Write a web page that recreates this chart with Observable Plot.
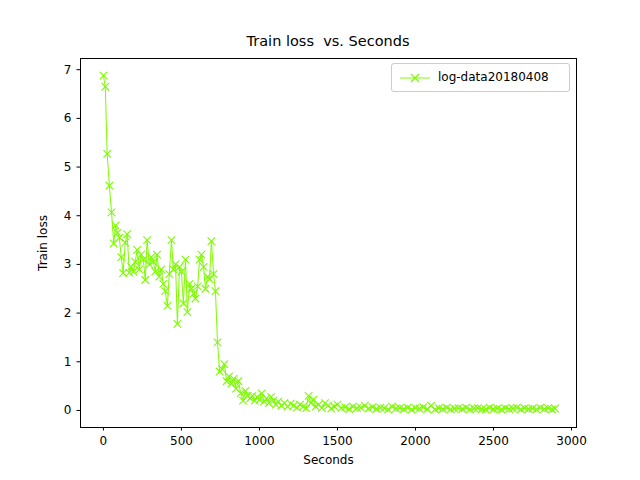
<!DOCTYPE html>
<html>
<head>
<meta charset="utf-8">
<script src="https://cdn.jsdelivr.net/npm/d3@7"></script>
<script src="https://cdn.jsdelivr.net/npm/@observablehq/plot@0.6"></script>
<style>
  body { margin: 0; font-family: "DejaVu Sans", sans-serif; background: #fff; }
  #wrap { position: relative; width: 640px; height: 480px; }
  #title { position: absolute; top: 33px; left: 80px; width: 496px; text-align: center; font-size: 14.5px; white-space: pre; }
  #legend { position: absolute; left: 391px; top: 63px; width: 177px; height: 27px; border: 1px solid #ccc; border-radius: 3px; background: #fff; font-size: 12px; }
  #legend svg { position: absolute; left: 6px; top: 6px; }
  #legend span { position: absolute; left: 46px; top: 6px; }
</style>
</head>
<body>
<div id="wrap">
  <div id="chart"></div>
  <div id="title">Train loss  vs. Seconds</div>
  <div id="legend">
    <svg width="34" height="16"><line x1="2" y1="8" x2="32" y2="8" stroke="#7CFC00"/><path d="M13,4L21,12M21,4L13,12" stroke="#7CFC00" stroke-width="1.2"/></svg>
    <span>log-data20180408</span>
  </div>
</div>
<script>
// early phase (0-760 s)
const secsA = [0, 12, 24, 38, 52, 66, 78, 90, 102, 114, 126, 140, 152, 166, 178, 192, 204, 216, 230, 242, 256, 268, 280, 294, 306, 320, 332, 344, 358, 370, 384, 396, 410, 422, 436, 448, 462, 474, 488, 500, 512, 526, 538, 552, 564, 578, 590, 604, 616, 628, 642, 654, 668, 680, 692, 706, 718, 731, 745, 760];
const lossA = [6.88, 6.65, 5.27, 4.62, 4.07, 3.43, 3.8, 3.65, 3.55, 3.15, 2.82, 3.45, 3.62, 2.83, 2.95, 2.85, 3.05, 3.3, 2.9, 3.2, 3.1, 2.68, 3.5, 3.0, 3.15, 3.05, 2.85, 3.2, 2.75, 2.9, 2.6, 2.45, 2.15, 2.8, 3.5, 2.9, 3.0, 1.78, 2.95, 2.85, 2.2, 3.1, 2.02, 2.6, 2.5, 2.4, 2.3, 2.55, 3.1, 3.2, 2.95, 2.5, 2.75, 2.7, 3.48, 2.8, 2.45, 1.4, 0.8, 0.85];
// decay and plateau (775-2900 s)
const secsB = [775, 790, 805, 820, 835, 850, 865, 880, 895, 910, 925, 940, 955, 970, 985, 1000, 1015, 1030, 1045, 1060, 1075, 1090, 1105, 1120, 1140, 1160, 1180, 1200, 1220, 1240, 1260, 1280, 1300, 1315, 1330, 1345, 1360, 1380, 1400, 1420, 1440, 1460, 1480, 1500, 1525, 1550, 1575, 1600, 1625, 1650, 1675, 1700, 1725, 1750, 1775, 1800, 1825, 1850, 1875, 1900, 1925, 1950, 1975, 2000, 2025, 2050, 2075, 2100, 2125, 2150, 2175, 2200, 2225, 2250, 2275, 2300, 2325, 2350, 2375, 2400, 2425, 2450, 2475, 2500, 2525, 2550, 2575, 2600, 2625, 2650, 2675, 2700, 2725, 2750, 2775, 2800, 2825, 2850, 2875, 2895];
const lossB = [0.95, 0.6, 0.7, 0.55, 0.65, 0.45, 0.6, 0.35, 0.2, 0.4, 0.3, 0.25, 0.3, 0.2, 0.28, 0.22, 0.35, 0.18, 0.25, 0.15, 0.28, 0.2, 0.12, 0.18, 0.1, 0.15, 0.08, 0.14, 0.1, 0.06, 0.12, 0.08, 0.05, 0.3, 0.15, 0.22, 0.08, 0.12, 0.05, 0.15, 0.1, 0.04, 0.08, 0.12, 0.05, 0.07, 0.03, 0.08, 0.05, 0.06, 0.1, 0.04, 0.07, 0.03, 0.06, 0.05, 0.02, 0.08, 0.04, 0.05, 0.03, 0.06, 0.02, 0.05, 0.04, 0.07, 0.03, 0.1, 0.02, 0.05, 0.03, 0.06, 0.02, 0.04, 0.05, 0.03, 0.06, 0.02, 0.04, 0.05, 0.03, 0.02, 0.06, 0.03, 0.04, 0.02, 0.05, 0.03, 0.04, 0.06, 0.02, 0.05, 0.03, 0.04, 0.02, 0.06, 0.03, 0.05, 0.02, 0.04];

const xTicks = [0, 500, 1000, 1500, 2000, 2500, 3000];
const yTicks = [0, 1, 2, 3, 4, 5, 6, 7];

const secs = secsA.concat(secsB);
const loss = lossA.concat(lossB);
const data = secs.map((s, i) => ({ s, loss: loss[i] }));

const green = "#7CFC00";
const plot = Plot.plot({
  width: 640,
  height: 480,
  marginLeft: 80,
  marginRight: 64,
  marginTop: 58,
  marginBottom: 53,
  style: { fontFamily: "DejaVu Sans, sans-serif", fontSize: "12px", color: "#000" },
  x: { domain: [-147, 3032] },
  y: { domain: [-0.35, 7.23] },
  marks: [
    Plot.frame({ stroke: "#000" }),
    Plot.axisX({ ticks: xTicks, tickFormat: "d", tickSize: 3.5, fontSize: 12, label: "Seconds", labelAnchor: "center", labelArrow: "none", labelOffset: 36 }),
    Plot.axisY({ ticks: yTicks, tickFormat: "d", tickSize: 3.5, fontSize: 12, label: "Train loss", labelAnchor: "center", labelArrow: "none", labelOffset: 42 }),
    Plot.line(data, { x: "s", y: "loss", stroke: green, strokeWidth: 1 }),
    Plot.dot(data, { x: "s", y: "loss", symbol: "times", r: 3.5, stroke: green, strokeWidth: 1.1 })
  ]
});
document.querySelector("#chart").append(plot);
</script>
</body>
</html>
